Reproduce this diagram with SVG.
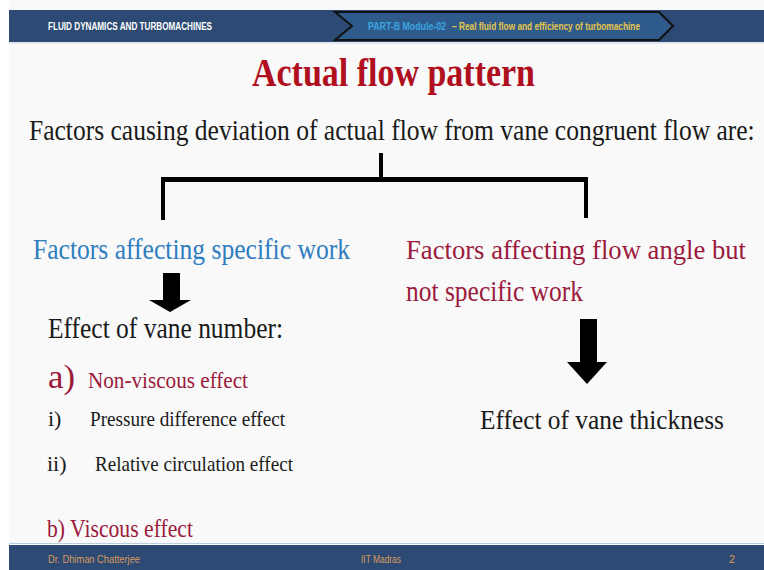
<svg xmlns="http://www.w3.org/2000/svg" width="764" height="570" viewBox="0 0 764 570">
<style>
.serif{font-family:"Liberation Serif","Times New Roman",serif}
.sans{font-family:"Liberation Sans",Arial,sans-serif}
.blk{fill:#1a1a1a}
.mar{fill:#9c1a3c}
.ftr{fill:#d99a5e;font-size:11px}
</style>
<rect x="0" y="0" width="764" height="570" fill="#ffffff"/>
<rect x="9" y="0" width="755" height="570" fill="#f8f9f8"/>
<g id="header">
<rect x="9" y="10" width="755" height="32" fill="#2c4a73"/>
<rect x="9" y="42" width="755" height="2" fill="#e4e8ec"/>
<polygon points="335,12 659,12 673,26 659,40 335,40 352,26" fill="#2f5b8c" stroke="#111" stroke-width="2"/>
<text x="48" y="30" class="sans" font-size="11" font-weight="bold" fill="#ffffff" textLength="164" lengthAdjust="spacingAndGlyphs">FLUID DYNAMICS AND TURBOMACHINES</text>
<text x="368" y="30" class="sans" font-size="10" font-weight="bold" fill="#3aa6e0" textLength="78" lengthAdjust="spacingAndGlyphs">PART-B  Module-02</text>
<text x="452" y="30" class="sans" font-size="10" font-weight="bold" fill="#e6c64a" textLength="188" lengthAdjust="spacingAndGlyphs">– Real fluid flow and efficiency of turbomachine</text>
</g>
<g id="title">
<text x="252" y="86" class="serif" font-size="40" font-weight="bold" fill="#b0101e" textLength="283" lengthAdjust="spacingAndGlyphs">Actual flow pattern</text>
</g>
<g id="root">
<text transform="translate(29,140) scale(0.82,1)" x="0" y="0" class="serif blk" font-size="30" textLength="885" lengthAdjust="spacingAndGlyphs">Factors causing deviation of actual flow from vane congruent flow are:</text>
</g>
<g id="connectors" fill="#000">
<rect x="379" y="153" width="4" height="25"/>
<rect x="161" y="177" width="427" height="5"/>
<rect x="161" y="177" width="4" height="43"/>
<rect x="584" y="177" width="4" height="41"/>
<polygon points="163,273 180,273 180,300 191,300 170,312 149,300 163,300"/>
<polygon points="580,319 597,319 597,362 607,362 587,384 567,362 580,362"/>
</g>
<g id="left-branch">
<text x="33" y="259" class="serif" font-size="29" fill="#2e7dc0" textLength="317" lengthAdjust="spacingAndGlyphs">Factors affecting specific work</text>
</g>
<g id="right-branch">
<text x="406" y="259" class="serif mar" font-size="28" textLength="340" lengthAdjust="spacingAndGlyphs">Factors affecting flow angle but</text>
<text x="406" y="301" class="serif mar" font-size="29" textLength="177" lengthAdjust="spacingAndGlyphs">not specific work</text>
</g>
<g id="vane-number">
<text x="48" y="338" class="serif blk" font-size="30" textLength="235" lengthAdjust="spacingAndGlyphs">Effect of vane number:</text>
</g>
<g id="non-viscous">
<text x="48" y="388" class="serif mar" font-size="34" textLength="27" lengthAdjust="spacingAndGlyphs">a)</text>
<text x="88" y="388" class="serif mar" font-size="24" textLength="160" lengthAdjust="spacingAndGlyphs">Non-viscous effect</text>
</g>
<g id="pressure">
<text x="48" y="426" class="serif blk" font-size="22">i)</text>
<text x="90" y="426" class="serif blk" font-size="22" textLength="195" lengthAdjust="spacingAndGlyphs">Pressure difference effect</text>
</g>
<g id="relative">
<text x="47" y="471" class="serif blk" font-size="22">ii)</text>
<text x="95" y="471" class="serif blk" font-size="22" textLength="198" lengthAdjust="spacingAndGlyphs">Relative circulation effect</text>
</g>
<g id="viscous">
<text x="47" y="537" class="serif mar" font-size="25" textLength="146" lengthAdjust="spacingAndGlyphs">b) Viscous effect</text>
</g>
<g id="vane-thickness">
<text x="480" y="429" class="serif blk" font-size="28" textLength="244" lengthAdjust="spacingAndGlyphs">Effect of vane thickness</text>
</g>
<g id="footer">
<rect x="9" y="543" width="755" height="1" fill="#b8cde0"/>
<rect x="9" y="545" width="755" height="25" fill="#2c4a73"/>
<text x="48" y="563" class="sans ftr" textLength="92" lengthAdjust="spacingAndGlyphs">Dr.  Dhiman Chatterjee</text>
<text x="361" y="563" class="sans ftr" textLength="40" lengthAdjust="spacingAndGlyphs">IIT Madras</text>
<text x="729" y="563" class="sans ftr">2</text>
</g>
</svg>
